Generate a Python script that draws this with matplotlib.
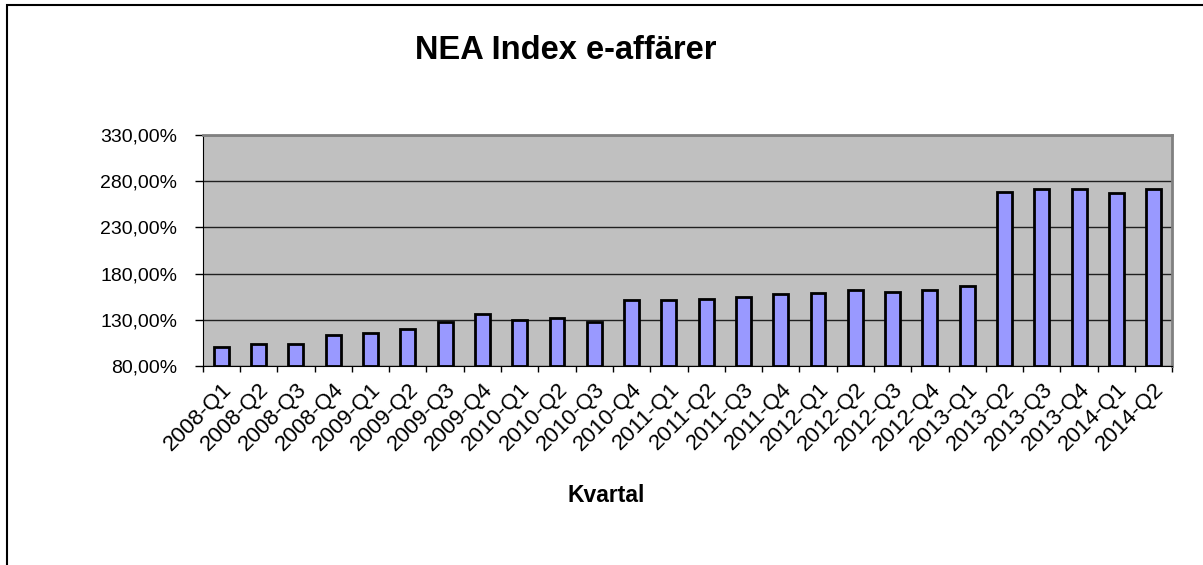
import numpy as np
import matplotlib.pyplot as plt
from matplotlib.ticker import FuncFormatter, FixedLocator
from matplotlib.patches import Rectangle

plt.rcParams['font.family'] = ['Liberation Sans', 'DejaVu Sans']

# Kvartal och indexvärden (%)
quarters = ['2008-Q1', '2008-Q2', '2008-Q3', '2008-Q4',
            '2009-Q1', '2009-Q2', '2009-Q3', '2009-Q4',
            '2010-Q1', '2010-Q2', '2010-Q3', '2010-Q4',
            '2011-Q1', '2011-Q2', '2011-Q3', '2011-Q4',
            '2012-Q1', '2012-Q2', '2012-Q3', '2012-Q4',
            '2013-Q1', '2013-Q2', '2013-Q3', '2013-Q4',
            '2014-Q1', '2014-Q2']
index_values = [100.5, 103.4, 104.1, 113.5, 116.0, 120.3, 127.5, 136.1,
                130.0, 131.8, 128.2, 151.6, 151.6, 152.7, 154.5, 158.0,
                159.5, 162.7, 160.6, 162.4, 166.3, 268.8, 271.7, 272.1,
                267.0, 271.4]
y_ticks = [80, 130, 180, 230, 280, 330]

fig = plt.figure(figsize=(12.03, 5.65), dpi=100)
ax = fig.add_axes([0.1685, 0.352, 0.806, 0.409])

x = np.arange(len(quarters))
ax.set_facecolor('#C0C0C0')
ax.bar(x, np.array(index_values) - 80, bottom=80, width=0.4,
       color='#9999FF', edgecolor='black', linewidth=2, zorder=3)

ax.set_xlim(-0.5, len(quarters) - 0.5)
ax.set_ylim(80, 330)
ax.yaxis.set_major_locator(FixedLocator(y_ticks))
ax.yaxis.set_major_formatter(FuncFormatter(lambda v, p: f'{v:.2f}%'.replace('.', ',')))
ax.grid(axis='y', color='#202020', linewidth=1, zorder=1)

ax.set_xticks(x)
ax.set_xticklabels(quarters, rotation=45, ha='right', va='top',
                   rotation_mode='anchor', fontsize=16)
ax.xaxis.set_minor_locator(FixedLocator(np.arange(-0.5, len(quarters), 1)))
ax.tick_params(axis='x', which='major', length=0, pad=9)
ax.tick_params(axis='x', which='minor', length=4.5, width=1, color='black')
ax.tick_params(axis='y', length=5.5, width=1, labelsize=14, pad=13, color='black')

for side in ['top', 'right']:
    ax.spines[side].set_color('#808080')
    ax.spines[side].set_linewidth(2)
ax.spines['left'].set_color('black')
ax.spines['bottom'].set_color('black')

fig.text(606 / 1203, 1 - 495 / 565, 'Kvartal', fontsize=16.5, fontweight='bold',
         ha='center', va='center')
fig.text(0.47, 0.9115, 'NEA Index e-affärer', fontsize=23.5, fontweight='bold',
         ha='center', va='center')

# yttre ram (endast vänster och övre kant syns)
fig.patches.append(Rectangle((7 / 1203, -0.1), 1.2, 1.1 - 5 / 565,
                             transform=fig.transFigure, fill=False,
                             edgecolor='black', linewidth=1.5))

fig.savefig('out.png', dpi=100)
